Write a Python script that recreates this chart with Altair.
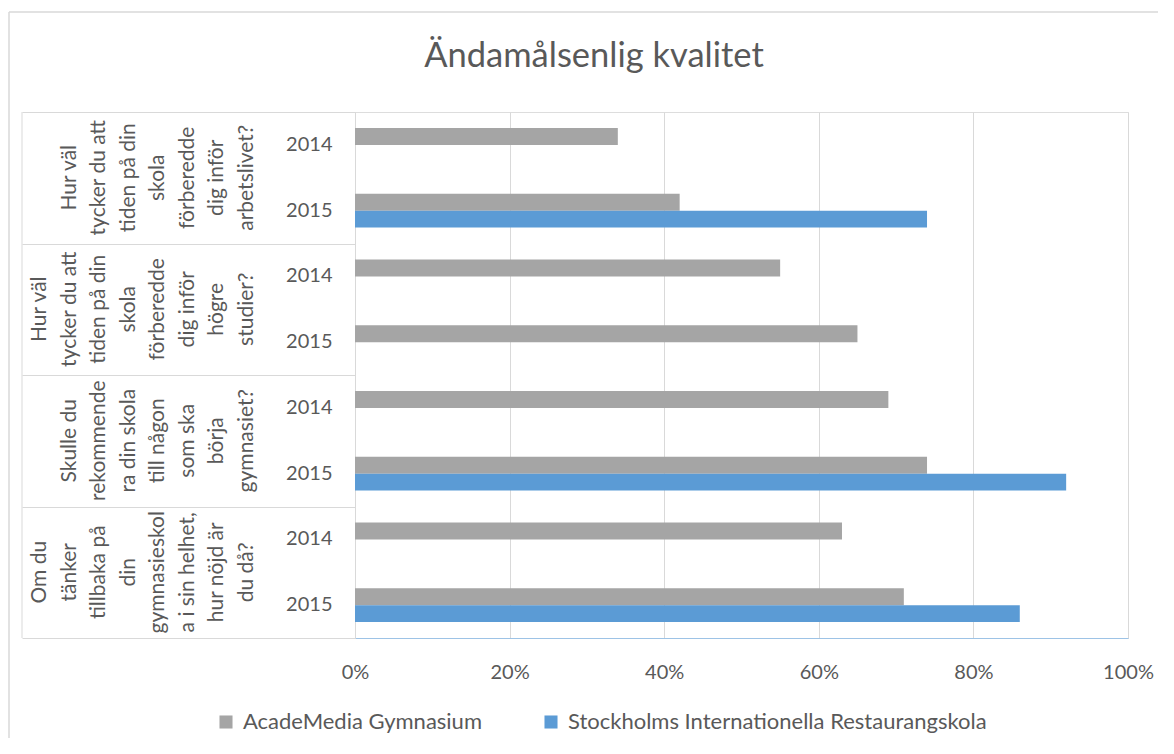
import altair as alt
import pandas as pd

# ---------------- data ----------------
groups = ["arbetslivet", "hogre", "rekommendera", "nojd"]
group_lines = [
    ["Hur väl", "tycker du att", "tiden på din", "skola", "förberedde", "dig inför", "arbetslivet?"],
    ["Hur väl", "tycker du att", "tiden på din", "skola", "förberedde", "dig inför", "högre", "studier?"],
    ["Skulle du", "rekommende", "ra din skola", "till någon", "som ska", "börja", "gymnasiet?"],
    ["Om du", "tänker", "tillbaka på", "din", "gymnasieskol", "a i sin helhet,", "hur nöjd är", "du då?"],
]
years = ["2014", "2015"]
series = ["AcadeMedia Gymnasium", "Stockholms Internationella Restaurangskola"]
# order: group 1 (2014, 2015), group 2 (2014, 2015), ...
academedia = [0.34, 0.42, 0.55, 0.65, 0.69, 0.74, 0.63, 0.71]
stockholm = [None, 0.74, None, None, None, 0.92, None, 0.86]
title_text = "Ändamålsenlig kvalitet"

rows = []
keys = []
i = 0
for g in groups:
    for yr in years:
        key = f"{g}|{yr}"
        keys.append(key)
        for s, vals in zip(series, [academedia, stockholm]):
            if vals[i] is not None:
                rows.append({"key": key, "series": s, "value": vals[i]})
        i += 1
df = pd.DataFrame(rows)

# right-align the wrapped label blocks (Excel style): pad shorter blocks at the front
max_lines = max(len(l) for l in group_lines)
label_text = ["\n".join([""] * (max_lines - len(l)) + l) for l in group_lines]
label_df = pd.DataFrame({"group": groups, "label": label_text})
one = pd.DataFrame({"a": [0]})

W, H = 773, 526
FONT = "Lato"
TXT = "#595959"
GRID = "#D9D9D9"

bars = alt.Chart(df).mark_bar().encode(
    x=alt.X("value:Q", scale=alt.Scale(domain=[0, 1]),
            axis=alt.Axis(format=".0%", values=[0, 0.2, 0.4, 0.6, 0.8, 1.0],
                          title=None, ticks=False, grid=True, gridColor=GRID,
                          domainColor="#9DC3E6", labelPadding=24, labelFlush=False,
                          labelFont=FONT, labelFontSize=20, labelColor=TXT)),
    y=alt.Y("key:N", sort=keys,
            scale=alt.Scale(paddingInner=0.483, paddingOuter=0.2415),
            axis=alt.Axis(title=None, ticks=False, domainColor=GRID,
                          labelExpr="split(datum.value, '|')[1]",
                          labelPadding=23, labelFont=FONT, labelFontSize=20,
                          labelColor=TXT)),
    yOffset=alt.YOffset("series:N", sort=series),
    color=alt.Color("series:N", sort=series,
                    scale=alt.Scale(domain=series, range=["#A5A5A5", "#5B9BD5"]),
                    legend=alt.Legend(orient="none", legendX=-140, legendY=599,
                                      direction="horizontal", title=None,
                                      symbolType="square", symbolSize=170,
                                      symbolStrokeWidth=0, labelFont=FONT,
                                      labelFontSize=22, labelColor=TXT,
                                      labelLimit=0,
                                      labelOffset=6, columnPadding=58)),
)

labels = alt.Chart(label_df).mark_text(
    angle=270, align="center", baseline="middle", lineBreak="\n",
    lineHeight=29.5, font=FONT, fontSize=21, color=TXT
).encode(
    y=alt.Y("group:N", sort=groups,
            scale=alt.Scale(paddingInner=0, paddingOuter=0),
            axis=alt.Axis(orient="left", title=None, labels=False, domain=False,
                          grid=False, ticks=True, tickBand="extent",
                          tickSize=333, tickColor=GRID)),
    x=alt.value(-315),
    text="label:N",
)

title = alt.Chart(one).mark_text(
    text=title_text, font=FONT, fontSize=34.5, color=TXT,
    align="center", baseline="middle"
).encode(x=alt.value(239), y=alt.value(-55))

left_line = alt.Chart(one).mark_rule(color=GRID).encode(
    x=alt.value(-333), y=alt.value(0), y2=alt.value(H))
border_v = alt.Chart(one).mark_rule(color=GRID, strokeWidth=1.5).encode(
    x=alt.value(-346), y=alt.value(-100), y2=alt.value(800))
border_h = alt.Chart(one).mark_rule(color=GRID, strokeWidth=1.5).encode(
    x=alt.value(-346), x2=alt.value(1000), y=alt.value(-100))

chart = alt.layer(bars, labels, title, left_line, border_v, border_h).resolve_scale(
    y="independent"
).properties(
    width=W, height=H,
    autosize=alt.AutoSizeParams(type="none"),
    padding={"left": 347, "top": 104, "right": 30, "bottom": 100},
).configure_view(stroke=None).configure(background="white")

chart.save("out.html", embed_options={"renderer": "svg", "actions": False})
